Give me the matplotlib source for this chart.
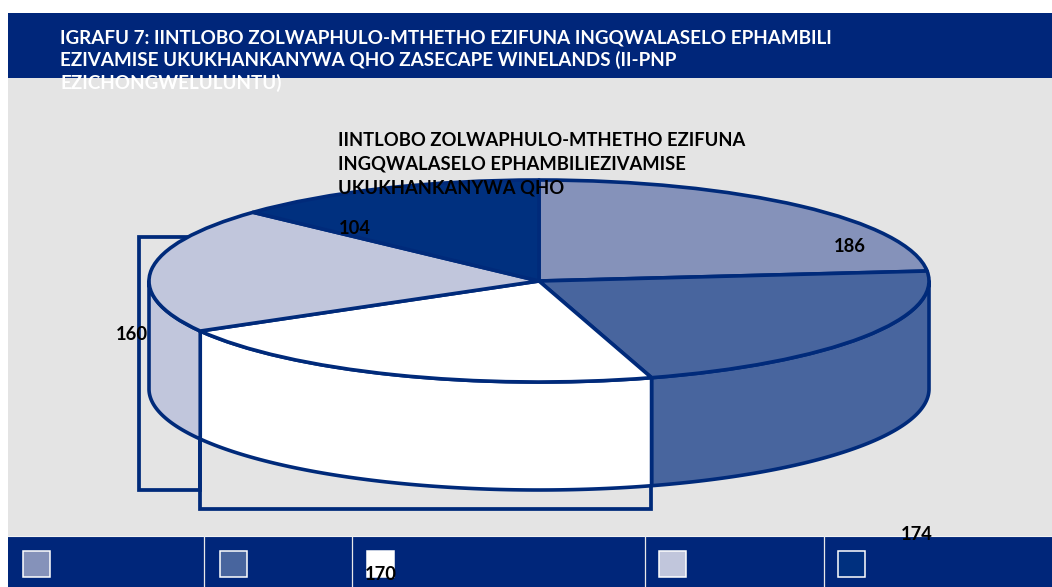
import numpy as np
import matplotlib
matplotlib.use("Agg")
import matplotlib.pyplot as plt
from matplotlib.patches import Rectangle, Polygon

W, H = 1052, 587
values = [186, 174, 170, 160, 104]
colors = ["#8592BA", "#48659E", "#FFFFFF", "#C1C6DC", "#00307F"]
title_lines = ["IGRAFU 7: IINTLOBO ZOLWAPHULO-MTHETHO EZIFUNA INGQWALASELO EPHAMBILI",
               "EZIVAMISE UKUKHANKANYWA QHO ZASECAPE WINELANDS (II-PNP",
               "EZICHONGWELULUNTU)"]
chart_title_lines = ["IINTLOBO ZOLWAPHULO-MTHETHO EZIFUNA",
                     "INGQWALASELO EPHAMBILIEZIVAMISE",
                     "UKUKHANKANYWA QHO"]
label_pos = [(850, 246), (917, 534), (381, 574), (132, 335), (355, 229)]
legend_x = [23, 220, 367, 659, 838]
divider_x = [203.5, 352, 644.5, 823.5]

NAVY = "#00267A"
EDGE = "#002A7A"
GRAY = "#E4E4E4"
FONT = "Lato"

fig = plt.figure(figsize=(W / 100, H / 100), dpi=100, facecolor="white")


def pixel_axes(z):
    a = fig.add_axes([0, 0, 1, 1], zorder=z)
    a.set_xlim(0, W)
    a.set_ylim(H, 0)
    a.axis("off")
    return a


bg = pixel_axes(0)
bg.add_patch(Rectangle((8, 78), W - 8, 458, fc=GRAY, ec="none"))
bg.add_patch(Rectangle((8, 13), W - 8, 65, fc=NAVY, ec="none"))
bg.add_patch(Rectangle((8, 536), W - 8, 51, fc=NAVY, ec="none"))
bg.plot([8, W], [535.5, 535.5], color="#F2F2F2", lw=0.8)
for x in divider_x:
    bg.plot([x, x], [536, H], color="#E8E8E8", lw=0.9)
bg.add_patch(Rectangle((139, 237), 61, 253, fc="none", ec=EDGE, lw=2.7))
bg.add_patch(Rectangle((200, 331), 450.5, 178, fc="none", ec=EDGE, lw=2.7))
for x, c in zip(legend_x, colors):
    bg.add_patch(Rectangle((x, 550.5), 26.5, 26.5, fc=c, ec="white", lw=1.1))

# pie: axes box is exactly the bounding box of the top ellipse
L, R, T, B = 149, 929, 180, 382
DEPTH = 108 / ((B - T) / 2)
ax = fig.add_axes([L / W, 1 - B / H, (R - L) / W, (B - T) / H], zorder=1)
ax.patch.set_alpha(0)
ax.pie(values, colors=colors, startangle=90, counterclock=False, radius=1,
       wedgeprops=dict(edgecolor=EDGE, linewidth=2.6, clip_on=False, joinstyle="round"))
ax.set_aspect("auto")
ax.set_xlim(-1, 1)
ax.set_ylim(-1, 1)
ax.axis("off")

edges = np.concatenate([[0], np.cumsum(values)]) / np.sum(values) * 2 * np.pi
for a0, a1, c in zip(edges[:-1], edges[1:], colors):
    lo, hi = max(a0, np.pi / 2), min(a1, 3 * np.pi / 2)
    if lo >= hi:
        continue
    t = np.linspace(lo, hi, 80)
    x, y = np.sin(t), np.cos(t)
    pts = np.r_[np.c_[x, y], np.c_[x[::-1], y[::-1] - DEPTH]]
    ax.add_patch(Polygon(pts, closed=True, fc=c, ec=EDGE, lw=2.6, zorder=0.5,
                         clip_on=False, joinstyle="round"))

top = pixel_axes(2)
top.patch.set_alpha(0)
for i, line in enumerate(title_lines):
    top.text(60, 44 + i * 22.4, line, color="white", fontsize=13.6, fontweight="bold",
             family=FONT, ha="left", va="baseline")
for i, line in enumerate(chart_title_lines):
    top.text(338, 146 + i * 24, line, color="black", fontsize=13.25, fontweight="bold",
             family=FONT, ha="left", va="baseline")
for (x, y), v in zip(label_pos, values):
    top.text(x, y, str(v), color="black", fontsize=13.2, fontweight="bold",
             family=FONT, ha="center", va="center")

fig.savefig("out.png", dpi=100)
